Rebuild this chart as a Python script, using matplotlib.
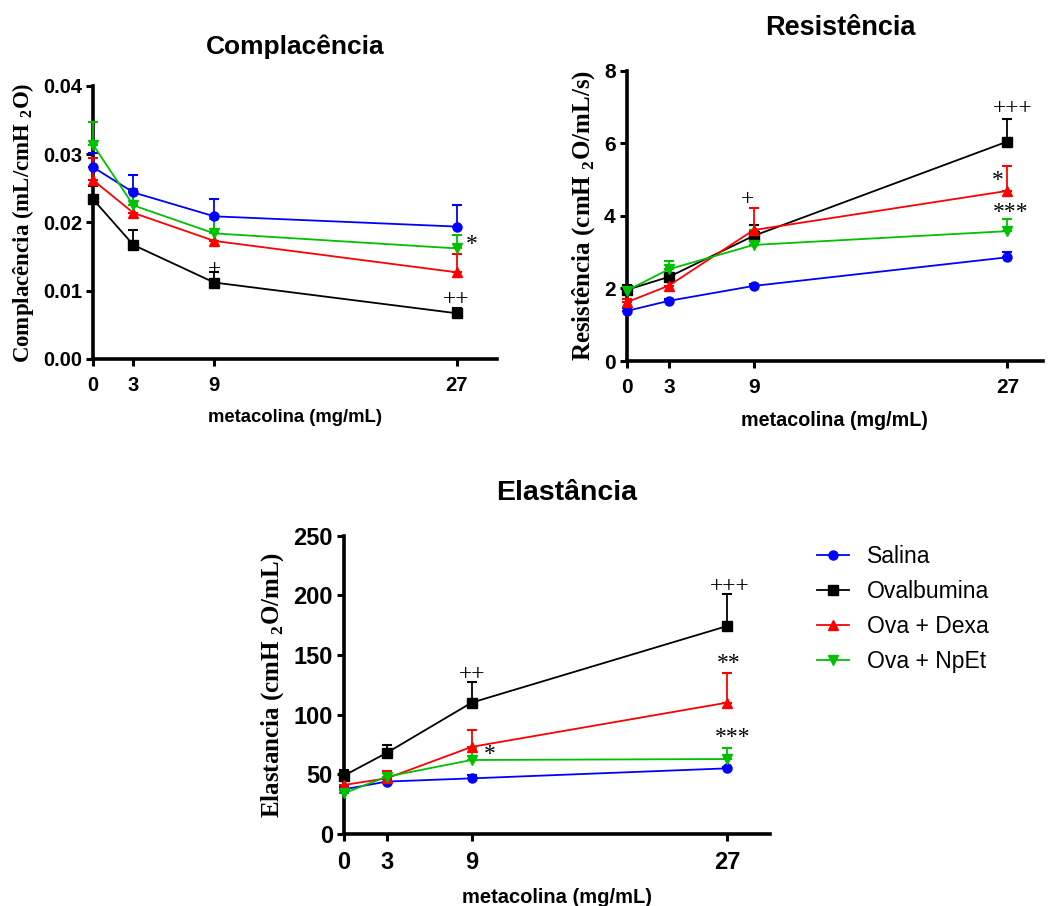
import matplotlib
matplotlib.use("Agg")
import matplotlib.pyplot as plt
from matplotlib.ticker import FormatStrFormatter

plt.rcParams["mathtext.fontset"] = "custom"
plt.rcParams["mathtext.rm"] = "Liberation Serif:bold"
plt.rcParams["mathtext.bf"] = "Liberation Serif:bold"

dose = [0, 3, 9, 27]
groups = ["Salina", "Ovalbumina", "Ova + Dexa", "Ova + NpEt"]
colors = ["#0000ff", "#000000", "#ff0000", "#00c000"]
markers = ["o", "s", "^", "v"]

# complacencia: mean / sem per group
comp_mean = [
    [0.0281, 0.0244, 0.0209, 0.0194],
    [0.0234, 0.0167, 0.0112, 0.0067],
    [0.0262, 0.0214, 0.0173, 0.0127],
    [0.0314, 0.0225, 0.0184, 0.0162],
]
comp_sem = [
    [0.0021, 0.0026, 0.0025, 0.0032],
    [0.0020, 0.0022, 0.0015, 0.0007],
    [0.0033, 0.0035, 0.0032, 0.0027],
    [0.0033, 0.0023, 0.0021, 0.0019],
]

# resistencia
res_mean = [
    [1.38, 1.66, 2.07, 2.86],
    [1.96, 2.32, 3.45, 6.05],
    [1.62, 2.08, 3.61, 4.69],
    [1.94, 2.53, 3.20, 3.58],
]
res_sem = [
    [0.08, 0.06, 0.06, 0.15],
    [0.13, 0.10, 0.30, 0.61],
    [0.10, 0.24, 0.61, 0.68],
    [0.10, 0.22, 0.41, 0.33],
]

# elastancia
ela_mean = [
    [37.4, 43.9, 46.6, 55.0],
    [48.9, 67.9, 110.1, 174.3],
    [41.1, 46.6, 73.0, 110.1],
    [34.1, 48.0, 62.0, 62.8],
]
ela_sem = [
    [2.0, 2.0, 2.8, 1.5],
    [4.7, 7.0, 17.6, 26.8],
    [4.2, 6.2, 14.2, 24.8],
    [2.5, 2.8, 10.0, 9.3],
]

# significance marks: (x, y, text)
comp_marks = [(9, 0.0131, "+"), (27, 0.00875, "++"), (28.1, 0.0167, "*")]
res_marks = [(8.6, 4.45, "+"), (27.4, 6.97, "+++"), (26.3, 4.98, "*"), (27.2, 4.08, "***")]
ela_marks = [(9.0, 134, "++"), (27.2, 207, "+++"), (27.1, 143, "**"), (27.4, 81, "***"), (10.3, 67, "*")]

sans = "Liberation Sans"
serif = "Liberation Serif"


def draw_panel(ax, means, sems, title, ylabel, ymax, ystep, fmt, marks,
               xmax=30, tick_fs=14.5, title_fs=19, xlab_fs=13.5, ylab_fs=16.5,
               title_pad=23, title_x=0.5):
    for mean, sem, c, m, name in zip(means, sems, colors, markers, groups):
        ax.errorbar(dose, mean, yerr=[[0] * len(sem), sem], color=c, marker=m,
                    markersize=6.5, lw=1.3, elinewidth=1.3, capsize=3.8,
                    capthick=1.5, clip_on=False, label=name, zorder=3)
    for x, y, t in marks:
        ax.text(x, y, t, ha="center", va="center", fontsize=17,
                family=serif, color="black", zorder=4)
    ax.set_xlim(0, xmax)
    ax.set_ylim(0, ymax)
    ax.set_xticks(dose)
    yt = [i * ystep for i in range(int(round(ymax / ystep)) + 1)]
    ax.set_yticks(yt)
    ax.yaxis.set_major_formatter(FormatStrFormatter(fmt))
    for s in ["top", "right"]:
        ax.spines[s].set_visible(False)
    for s in ["left", "bottom"]:
        ax.spines[s].set_linewidth(2.6)
    ax.tick_params(direction="out", length=5, width=2.2)
    ax.tick_params(axis="x", pad=7)
    ax.tick_params(axis="y", pad=3)
    for lab in ax.get_xticklabels() + ax.get_yticklabels():
        lab.set_fontfamily(sans)
        lab.set_fontweight("bold")
        lab.set_fontsize(tick_fs)
    ax.set_title(title, fontsize=title_fs, fontweight="bold", family=sans,
                 pad=title_pad, x=title_x)
    ax.set_xlabel("metacolina (mg/mL)", fontsize=xlab_fs, fontweight="bold",
                  family=sans, labelpad=10)
    ax.set_ylabel(ylabel, fontsize=ylab_fs, fontweight="bold", family=serif,
                  labelpad=5)


fig = plt.figure(figsize=(10.49, 9.06), dpi=100)

ax1 = fig.add_axes([0.0887, 0.6038, 0.385, 0.3013])
draw_panel(ax1, comp_mean, comp_sem, "Complacência",
           r"Complacência (mL/cmH $_{2}$O)", 0.04, 0.01, "%.2f", comp_marks,
           tick_fs=14.5, title_fs=19, xlab_fs=13.3, ylab_fs=16.5, title_pad=23)

ax2 = fig.add_axes([0.5974, 0.6015, 0.3966, 0.3204])
draw_panel(ax2, res_mean, res_sem, "Resistência",
           r"Resistência (cmH $_{2}$O/mL/s)", 8, 2, "%d", res_marks, xmax=29.5,
           tick_fs=15, title_fs=19.5, xlab_fs=14.2, ylab_fs=18, title_pad=26,
           title_x=0.514)

ax3 = fig.add_axes([0.3279, 0.0795, 0.4061, 0.3293])
draw_panel(ax3, ela_mean, ela_sem, "Elastância",
           r"Elastancia (cmH $_{2}$O/mL)", 250, 50, "%d", ela_marks,
           tick_fs=17, title_fs=20.5, xlab_fs=14.5, ylab_fs=18, title_pad=26,
           title_x=0.523)

handles, labels = ax3.get_legend_handles_labels()
handles = [h[0] for h in handles]
fig.legend(handles, labels, loc="upper left", bbox_to_anchor=(0.7787, 0.3987),
           frameon=False, prop={"family": sans, "size": 16.5},
           handlelength=1.4, labelspacing=0.52, handletextpad=0.8,
           borderaxespad=0, borderpad=0)

fig.savefig("out.png", dpi=100)
